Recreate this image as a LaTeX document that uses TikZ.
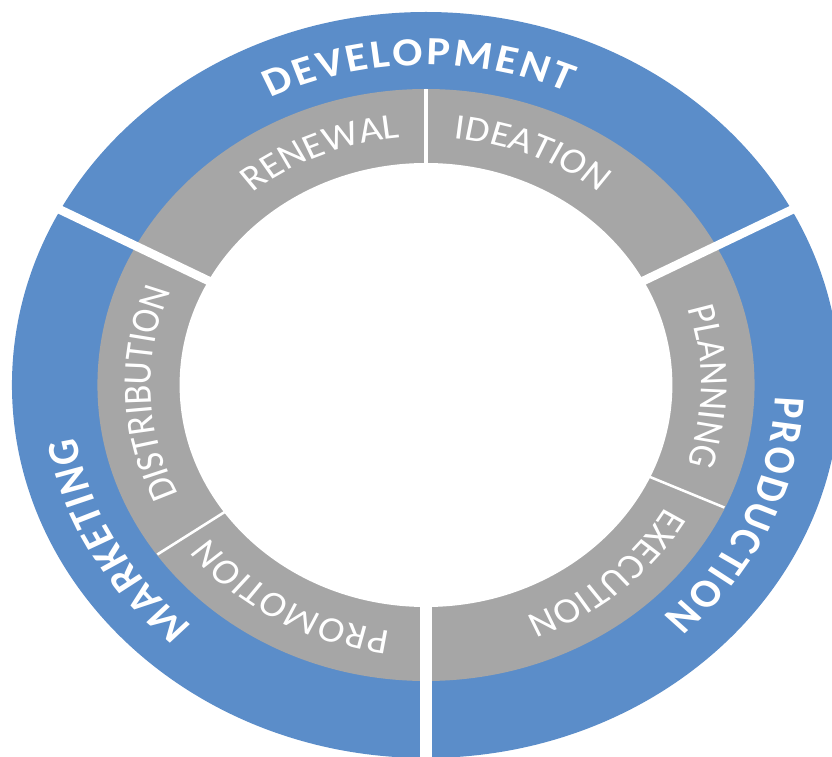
\documentclass[tikz,border=0pt]{standalone}
\usepackage{fontspec}
\newfontfamily\carlito{Carlito}
\usetikzlibrary{decorations.text}
\definecolor{ringblue}{HTML}{5B8DC9}
\definecolor{ringgray}{HTML}{A6A6A6}
% lettering for the outer phases and the inner steps
\newcommand\phasefont{\carlito\bfseries\fontsize{40pt}{42pt}\selectfont\color{white}}
\newcommand\stepfont{\carlito\fontsize{36pt}{38pt}\selectfont\color{white}}
% text set along a clockwise arc: radius, start angle, end angle, format, text
\newcommand\ringlabel[5]{%
  \path[decorate, decoration={text along path, text={|#4|#5}, text align=fit to path}]
    (#2:#1) arc[start angle=#2, end angle=#3, radius=#1];}
\tikzset{
  phasegap/.style={white, line width=8.5pt},
  stepgap/.style={white, line width=2.5pt}
}
\begin{document}
\begin{tikzpicture}[x=1pt,y=1pt]
\path[use as bounding box, fill=white] (-426,-372) rectangle (406,385);
\begin{scope}[transform canvas={xscale=1.11}]
  % rings
  \fill[ringblue] (0,0) circle[radius=373pt];
  \fill[ringgray] (0,0) circle[radius=296pt];
  \fill[white] (0,0) circle[radius=222pt];
  % gaps between the three phases
  \foreach \a in {28,152} \draw[phasegap] (\a:210pt) -- (\a:390pt);
  \draw[phasegap, line width=10pt] (270:210pt) -- (270:390pt);
  % dividers between the steps
  \draw[stepgap, line width=4pt] (90:210pt) -- (90:295.5pt);
  \foreach \a in {-24.5,215} \draw[stepgap] (\a:210pt) -- (\a:295.5pt);
  % phase names
  \ringlabel{320pt}{116}{66.5}{\phasefont}{DEVELOPMENT}
  \ringlabel{315pt}{-2}{-47.3}{\phasefont}{PRODUCTION}
  \ringlabel{320pt}{229}{189.5}{\phasefont}{MARKETING}
  % step names
  \ringlabel{248pt}{129}{95.8}{\stepfont}{RENEWAL}
  \ringlabel{248pt}{84.2}{52.2}{\stepfont}{IDEATION}
  \ringlabel{248pt}{18}{-18.6}{\stepfont}{PLANNING}
  \ringlabel{248pt}{-29.6}{-68}{\stepfont}{EXECUTION}
  \ringlabel{248pt}{262.6}{218}{\stepfont}{PROMOTION}
  \ringlabel{248pt}{206.3}{159.5}{\stepfont}{DISTRIBUTION}
\end{scope}
\end{tikzpicture}
\end{document}
